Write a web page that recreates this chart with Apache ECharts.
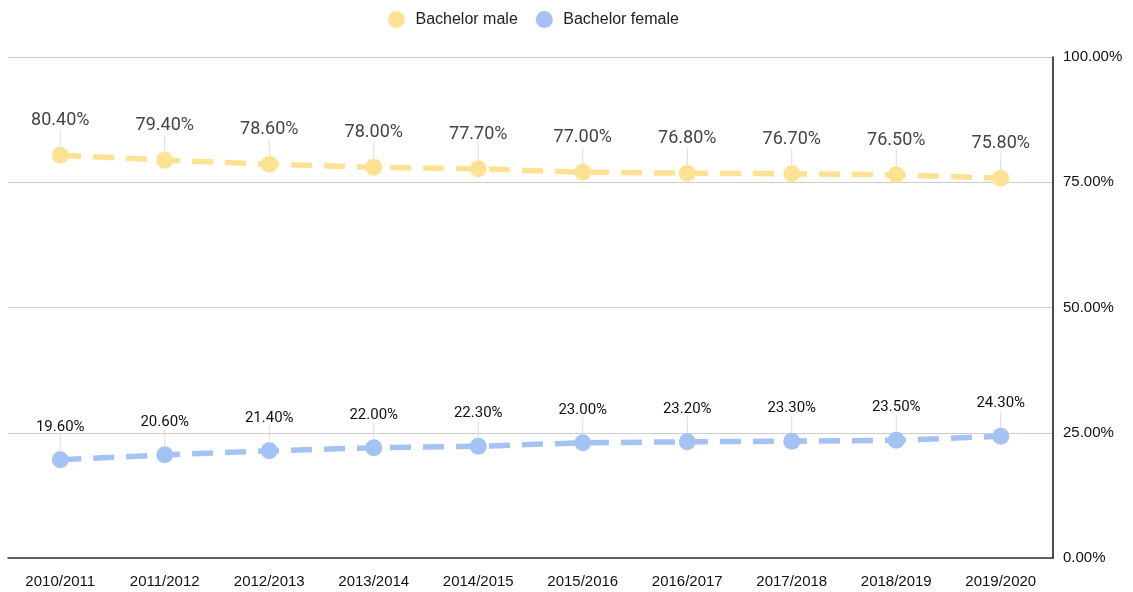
<!DOCTYPE html>
<html>
<head>
<meta charset="utf-8">
<script src="https://cdn.jsdelivr.net/npm/echarts@6/dist/echarts.min.js"></script>
<style>
  html, body { margin: 0; padding: 0; background: #fff; }
  #chart { width: 1133px; height: 592px; }
</style>
</head>
<body>
<div id="chart"></div>
<script>
var years = ['2010/2011', '2011/2012', '2012/2013', '2013/2014', '2014/2015',
             '2015/2016', '2016/2017', '2017/2018', '2018/2019', '2019/2020'];
var maleShare = [80.4, 79.4, 78.6, 78.0, 77.7, 77.0, 76.8, 76.7, 76.5, 75.8];
var femaleShare = [19.6, 20.6, 21.4, 22.0, 22.3, 23.0, 23.2, 23.3, 23.5, 24.3];

var myChart = echarts.init(document.getElementById('chart'));

function pct(v) {
    return v.toFixed(2) + '%';
}

var option = {
    animation: false,
    legend: {
        top: 6,
        left: 383,
        icon: 'circle',
        itemWidth: 28,
        itemHeight: 17,
        itemGap: 18,
        textStyle: { fontFamily: 'Liberation Sans', fontSize: 16, color: '#222' },
        data: ['Bachelor male', 'Bachelor female']
    },
    grid: { left: 8, right: 80, top: 57, bottom: 34 },
    xAxis: {
        type: 'category',
        data: years,
        boundaryGap: true,
        axisLine: { lineStyle: { color: '#333', width: 1.5 } },
        axisTick: { show: false },
        axisLabel: { fontFamily: 'Liberation Sans', fontSize: 15, color: '#111', margin: 16 }
    },
    yAxis: {
        type: 'value',
        position: 'right',
        min: 0,
        max: 100,
        interval: 25,
        axisLine: { show: true, lineStyle: { color: '#111', width: 1.5 } },
        axisTick: { show: false },
        splitLine: { lineStyle: { color: '#ccc', width: 1.2 } },
        axisLabel: {
            fontFamily: 'Liberation Sans', fontSize: 15, color: '#111', margin: 10,
            formatter: function (v) { return v.toFixed(2) + '%'; }
        }
    },
    series: [{
        name: 'Bachelor male',
        type: 'line',
        data: maleShare,
        symbol: 'circle',
        symbolSize: 17,
        itemStyle: { color: '#fde293' },
        lineStyle: { color: '#fde293', width: 5.5, type: [21, 12] },
        label: {
            show: true,
            position: 'top',
            distance: 8,
            fontFamily: 'Roboto',
            fontSize: 18,
            color: '#444',
            formatter: function (p) { return pct(p.value); }
        },
        labelLayout: { dy: -9 },
        labelLine: { show: true, lineStyle: { color: '#ddd', width: 1 } }
    }, {
        name: 'Bachelor female',
        type: 'line',
        data: femaleShare,
        symbol: 'circle',
        symbolSize: 17,
        itemStyle: { color: '#a4c2f4' },
        lineStyle: { color: '#a4c2f4', width: 5.5, type: [21, 12] },
        label: {
            show: true,
            position: 'top',
            distance: 8,
            fontFamily: 'Roboto',
            fontSize: 15,
            color: '#111',
            formatter: function (p) { return pct(p.value); }
        },
        labelLayout: { dy: -9 },
        labelLine: { show: true, lineStyle: { color: '#ddd', width: 1 } }
    }]
};

myChart.setOption(option);
</script>
</body>
</html>
